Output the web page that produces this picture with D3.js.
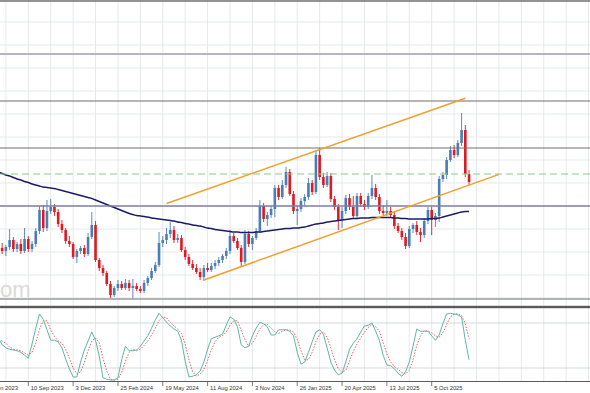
<!DOCTYPE html>
<html>
<head>
<meta charset="utf-8">
<script src="https://d3js.org/d3.v7.min.js"></script>
<style>
  body { margin: 0; background: #fff; }
  svg { display: block; }
</style>
</head>
<body>
<div id="chart"></div>
<script>
// Weekly candles, first bar opens the week of 16 Jul 2023
var startDate = '2023-07-16';

var opens = [
  1.257, 1.252, 1.249, 1.253, 1.260, 1.251, 1.256, 1.249,
  1.261, 1.251, 1.256, 1.269, 1.290, 1.272, 1.289, 1.293, 1.288, 1.276,
  1.270, 1.259, 1.256, 1.243, 1.249, 1.252, 1.246, 1.263, 1.275, 1.240,
  1.232, 1.227, 1.216, 1.205, 1.212, 1.216, 1.212, 1.217, 1.212, 1.214,
  1.211, 1.209, 1.217, 1.222, 1.229, 1.235, 1.257, 1.260, 1.266, 1.270,
  1.260, 1.262, 1.250, 1.243, 1.236, 1.232, 1.228, 1.223, 1.232, 1.230,
  1.234, 1.237, 1.240, 1.244, 1.249, 1.264, 1.259, 1.252, 1.238, 1.266,
  1.256, 1.262, 1.269, 1.294, 1.281, 1.285, 1.291, 1.312, 1.303, 1.315,
  1.328, 1.306, 1.289, 1.291, 1.299, 1.303, 1.317, 1.308, 1.345, 1.323,
  1.315, 1.324, 1.301, 1.293, 1.280, 1.289, 1.302, 1.293, 1.284, 1.304,
  1.296, 1.293, 1.304, 1.312, 1.303, 1.289, 1.287, 1.289, 1.285, 1.274,
  1.269, 1.263, 1.254, 1.271, 1.275, 1.268, 1.265, 1.279, 1.290, 1.280,
  1.284, 1.321, 1.325, 1.340, 1.350, 1.345, 1.357, 1.370, 1.326
];
var highs = [
  1.260, 1.257, 1.255, 1.271, 1.263, 1.258, 1.261, 1.272,
  1.264, 1.259, 1.272, 1.294, 1.295, 1.300, 1.301, 1.296, 1.291, 1.280,
  1.272, 1.264, 1.258, 1.251, 1.254, 1.255, 1.267, 1.288, 1.279, 1.242,
  1.235, 1.229, 1.219, 1.214, 1.220, 1.219, 1.221, 1.220, 1.221, 1.217,
  1.214, 1.220, 1.224, 1.232, 1.238, 1.268, 1.264, 1.272, 1.278, 1.274,
  1.266, 1.265, 1.253, 1.246, 1.240, 1.236, 1.232, 1.235, 1.237, 1.237,
  1.240, 1.243, 1.246, 1.252, 1.270, 1.267, 1.262, 1.255, 1.270, 1.269,
  1.264, 1.272, 1.300, 1.297, 1.288, 1.294, 1.315, 1.315, 1.320, 1.333,
  1.331, 1.309, 1.295, 1.302, 1.306, 1.322, 1.320, 1.350, 1.352, 1.327,
  1.328, 1.327, 1.304, 1.296, 1.293, 1.305, 1.306, 1.304, 1.307, 1.307,
  1.300, 1.307, 1.325, 1.316, 1.306, 1.295, 1.300, 1.293, 1.288, 1.277,
  1.272, 1.267, 1.274, 1.277, 1.279, 1.272, 1.282, 1.293, 1.293, 1.287,
  1.324, 1.328, 1.343, 1.354, 1.355, 1.360, 1.387, 1.375, 1.330
];
var lows = [
  1.249, 1.246, 1.244, 1.250, 1.248, 1.248, 1.246, 1.247,
  1.248, 1.248, 1.253, 1.266, 1.268, 1.269, 1.286, 1.284, 1.273, 1.267,
  1.256, 1.253, 1.241, 1.237, 1.246, 1.243, 1.244, 1.261, 1.238, 1.229,
  1.224, 1.214, 1.202, 1.203, 1.209, 1.210, 1.210, 1.209, 1.202, 1.209,
  1.207, 1.207, 1.214, 1.220, 1.227, 1.233, 1.253, 1.256, 1.262, 1.257,
  1.257, 1.248, 1.240, 1.234, 1.230, 1.226, 1.220, 1.219, 1.228, 1.228,
  1.231, 1.234, 1.237, 1.241, 1.246, 1.257, 1.250, 1.234, 1.236, 1.253,
  1.250, 1.260, 1.267, 1.278, 1.274, 1.282, 1.283, 1.300, 1.301, 1.312,
  1.304, 1.286, 1.275, 1.288, 1.294, 1.300, 1.305, 1.306, 1.320, 1.312,
  1.313, 1.298, 1.290, 1.270, 1.272, 1.286, 1.290, 1.281, 1.282, 1.293,
  1.290, 1.291, 1.301, 1.300, 1.286, 1.285, 1.284, 1.283, 1.271, 1.267,
  1.260, 1.251, 1.252, 1.267, 1.265, 1.258, 1.262, 1.276, 1.265, 1.273,
  1.278, 1.318, 1.321, 1.338, 1.342, 1.343, 1.354, 1.323, 1.315
];
var closes = [
  1.252, 1.249, 1.253, 1.260, 1.251, 1.256, 1.249, 1.261,
  1.251, 1.256, 1.269, 1.290, 1.272, 1.289, 1.293, 1.288, 1.276, 1.270,
  1.259, 1.256, 1.243, 1.249, 1.252, 1.246, 1.263, 1.275, 1.240, 1.232,
  1.227, 1.216, 1.205, 1.212, 1.216, 1.212, 1.217, 1.212, 1.214, 1.211,
  1.209, 1.217, 1.222, 1.229, 1.235, 1.257, 1.260, 1.266, 1.270, 1.260,
  1.262, 1.250, 1.243, 1.236, 1.232, 1.228, 1.223, 1.232, 1.230, 1.234,
  1.237, 1.240, 1.244, 1.249, 1.264, 1.259, 1.252, 1.238, 1.266, 1.256,
  1.262, 1.269, 1.294, 1.281, 1.285, 1.291, 1.312, 1.303, 1.315, 1.328,
  1.306, 1.289, 1.291, 1.299, 1.303, 1.317, 1.308, 1.345, 1.323, 1.315,
  1.324, 1.301, 1.293, 1.280, 1.289, 1.302, 1.293, 1.284, 1.304, 1.296,
  1.293, 1.304, 1.312, 1.303, 1.289, 1.287, 1.289, 1.285, 1.274, 1.269,
  1.263, 1.254, 1.271, 1.275, 1.268, 1.265, 1.279, 1.290, 1.280, 1.284,
  1.321, 1.325, 1.340, 1.350, 1.345, 1.357, 1.370, 1.326, 1.318
];

// Long moving average (navy line)
var maValues = [
  1.3275, 1.3265, 1.3250, 1.3240, 1.3225, 1.3210, 1.3200, 1.3185,
  1.3175, 1.3160, 1.3150, 1.3140, 1.3130, 1.3125, 1.3120, 1.3115, 1.3105, 1.3095,
  1.3085, 1.3075, 1.3065, 1.3055, 1.3045, 1.3035, 1.3025, 1.3015, 1.3000, 1.2985,
  1.2970, 1.2955, 1.2940, 1.2925, 1.2910, 1.2895, 1.2880, 1.2865, 1.2855, 1.2845,
  1.2840, 1.2835, 1.2830, 1.2820, 1.2815, 1.2810, 1.2805, 1.2800, 1.2795, 1.2790,
  1.2780, 1.2775, 1.2765, 1.2760, 1.2750, 1.2745, 1.2740, 1.2730, 1.2720, 1.2715,
  1.2705, 1.2700, 1.2695, 1.2690, 1.2685, 1.2680, 1.2680, 1.2675, 1.2675, 1.2675,
  1.2675, 1.2680, 1.2680, 1.2685, 1.2690, 1.2695, 1.2700, 1.2705, 1.2710, 1.2715,
  1.2715, 1.2720, 1.2720, 1.2725, 1.2730, 1.2740, 1.2750, 1.2760, 1.2765, 1.2770,
  1.2780, 1.2785, 1.2790, 1.2795, 1.2800, 1.2805, 1.2810, 1.2815, 1.2815, 1.2820,
  1.2820, 1.2820, 1.2825, 1.2825, 1.2825, 1.2825, 1.2825, 1.2825, 1.2820, 1.2820,
  1.2815, 1.2815, 1.2810, 1.2810, 1.2810, 1.2810, 1.2810, 1.2810, 1.2815, 1.2815,
  1.2820, 1.2830, 1.2840, 1.2850, 1.2860, 1.2870, 1.2880, 1.2885, 1.2885
];

// Stochastic oscillator (lower window)
var stochK = [
  60, 51, 47, 45, 44, 43, 41, 37,
  33, 52, 73, 92, 85, 71, 57, 57, 55, 47,
  32, 19, 8, 8, 28, 44, 56, 68, 57, 36,
  7, 5, 4, 4, 7, 31, 49, 43, 43, 44,
  49, 56, 63, 73, 84, 93, 87, 81, 76, 72,
  69, 57, 29, 8, 9, 11, 16, 28, 45, 59,
  61, 63, 65, 77, 88, 85, 75, 51, 47, 49,
  63, 73, 81, 79, 75, 64, 64, 71, 71, 71,
  69, 63, 41, 25, 28, 41, 55, 68, 71, 65,
  47, 28, 17, 11, 13, 28, 45, 53, 59, 68,
  76, 77, 80, 69, 57, 37, 24, 23, 19, 13,
  9, 15, 28, 49, 72, 69, 69, 69, 63, 57,
  64, 79, 92, 93, 92, 91, 88, 57, 31
];
var stochD = [
  58, 56, 53, 48, 45, 44, 43, 40,
  37, 41, 53, 72, 83, 83, 71, 62, 56, 53,
  45, 33, 20, 12, 15, 27, 43, 56, 60, 54,
  33, 16, 5, 4, 5, 14, 29, 41, 45, 43,
  45, 50, 56, 64, 73, 83, 88, 87, 81, 76,
  72, 66, 52, 31, 15, 9, 12, 18, 30, 44,
  55, 61, 63, 68, 77, 83, 83, 70, 58, 49,
  53, 62, 72, 78, 78, 73, 68, 66, 69, 71,
  70, 68, 58, 43, 31, 31, 41, 55, 65, 68,
  61, 47, 31, 19, 14, 17, 29, 42, 52, 60,
  68, 74, 78, 75, 69, 54, 39, 28, 22, 18,
  14, 12, 17, 31, 50, 63, 70, 69, 67, 63,
  61, 67, 78, 88, 92, 92, 90, 79, 59
];
var stochLevels = [80, 20];

var tickLabels = ['18 Jun 2023', '10 Sep 2023', '3 Dec 2023', '25 Feb 2024', '19 May 2024',
  '11 Aug 2024', '3 Nov 2024', '26 Jan 2025', '20 Apr 2025', '13 Jul 2025', '5 Oct 2025'];

// Horizontal levels and trend channel
var levelPrices = [1.499, 1.446, 1.399, 1.352, 1.294, 1.201];
var targetPrice = 1.326;
var upperChannel = [['2024-05-26', 1.2965], ['2025-12-07', 1.4017]];
var lowerChannel = [['2024-08-04', 1.2200], ['2026-02-08', 1.3256]];

// Colours
var COLORS = {
  BULL: '#4a7db5',
  BEAR: '#dc1a22',
  GRID: '#e6e9ec',
  LEVEL: '#6f6f6f',
  LEVEL_LIGHT: '#b4b4c2',
  LEVEL_BLUE: '#7e80a4',
  TARGET: '#8cc98c',
  CHANNEL: '#f0a02c',
  MA: '#1c1c66',
  STOCH_K: '#63b4aa',
  STOCH_D: '#d9534f',
  AXIS: '#5a5a5a',
  TEXT: '#333333'
};

var W = 590, H = 393;
var MAIN_BOTTOM = 305, SUB_TOP = 309, SUB_BOTTOM = 381;

var parseDay = d3.utcParse('%Y-%m-%d');
var parseLabel = d3.utcParse('%d %b %Y');
var start = parseDay(startDate);
var dates = closes.map(function(d, i) { return d3.utcWeek.offset(start, i); });

var x = d3.scaleUtc()
  .domain([parseDay('2023-09-10'), parseDay('2025-10-05')])
  .range([28.3, 431.7]);
var y = d3.scaleLinear().domain([1.195, 1.500]).range([MAIN_BOTTOM, 0]);
var yStoch = d3.scaleLinear().domain([0, 100]).range([383, 308]);

var svg = d3.select('#chart').append('svg')
  .attr('width', W)
  .attr('height', H);

svg.append('rect').attr('width', W).attr('height', H).attr('fill', '#fff');

var defs = svg.append('defs');
defs.append('clipPath').attr('id', 'clip-main')
  .append('rect').attr('x', 0).attr('y', 0).attr('width', W).attr('height', MAIN_BOTTOM);
defs.append('clipPath').attr('id', 'clip-sub')
  .append('rect').attr('x', 0).attr('y', SUB_TOP).attr('width', W).attr('height', SUB_BOTTOM - SUB_TOP);

// Vertical grid every 6 weeks, across both windows
var gridWeeks = d3.range(-6, 151, 6).map(function(w) {
  return d3.utcWeek.offset(parseDay('2023-09-10'), w);
});
svg.append('g').selectAll('line')
  .data(gridWeeks)
  .enter().append('line')
  .attr('x1', function(d) { return x(d); })
  .attr('x2', function(d) { return x(d); })
  .attr('y1', 0)
  .attr('y2', SUB_BOTTOM)
  .attr('stroke', COLORS.GRID)
  .attr('stroke-width', 1);

// Horizontal grid of the price window
var gridPrices = d3.range(1.478, 1.19, -0.023);
svg.append('g').selectAll('line')
  .data(gridPrices)
  .enter().append('line')
  .attr('x1', 0).attr('x2', W)
  .attr('y1', function(d) { return y(d); })
  .attr('y2', function(d) { return y(d); })
  .attr('stroke', COLORS.GRID)
  .attr('stroke-width', 1);

var main = svg.append('g').attr('clip-path', 'url(#clip-main)');

// Watermark, mostly cut off at the left edge
main.append('text')
  .attr('x', 30.5)
  .attr('y', 297)
  .attr('text-anchor', 'end')
  .attr('font-family', 'Liberation Sans, Arial, sans-serif')
  .attr('font-size', '22px')
  .attr('fill', '#dadada')
  .text('.com');

// Candles
var candles = main.append('g').selectAll('g')
  .data(closes.map(function(c, i) {
    return {date: dates[i], o: opens[i], h: highs[i], l: lows[i], c: c};
  }))
  .enter().append('g');

candles.append('line')
  .attr('x1', function(d) { return x(d.date); })
  .attr('x2', function(d) { return x(d.date); })
  .attr('y1', function(d) { return y(d.h); })
  .attr('y2', function(d) { return y(d.l); })
  .attr('stroke', function(d) { return d.c >= d.o ? COLORS.BULL : COLORS.BEAR; })
  .attr('stroke-width', 0.9);

candles.append('rect')
  .attr('x', function(d) { return x(d.date) - 1.3; })
  .attr('width', 2.6)
  .attr('y', function(d) { return y(Math.max(d.o, d.c)); })
  .attr('height', function(d) { return Math.max(1, Math.abs(y(d.o) - y(d.c))); })
  .attr('fill', function(d) { return d.c >= d.o ? COLORS.BULL : COLORS.BEAR; });

// Moving average
var maLine = d3.line()
  .x(function(d, i) { return x(dates[i]); })
  .y(function(d) { return y(d); })
  .curve(d3.curveMonotoneX);
main.append('path')
  .datum(maValues)
  .attr('d', maLine)
  .attr('fill', 'none')
  .attr('stroke', COLORS.MA)
  .attr('stroke-width', 1.5);

// Horizontal levels
var levelStyle = [
  {color: COLORS.LEVEL, width: 1.5},
  {color: COLORS.LEVEL_LIGHT, width: 2},
  {color: COLORS.LEVEL, width: 1.2},
  {color: COLORS.LEVEL, width: 1},
  {color: COLORS.LEVEL_BLUE, width: 1.5},
  {color: COLORS.LEVEL, width: 1.2}
];
main.append('g').selectAll('line')
  .data(levelPrices)
  .enter().append('line')
  .attr('x1', 0).attr('x2', W)
  .attr('y1', function(d) { return y(d); })
  .attr('y2', function(d) { return y(d); })
  .attr('stroke', function(d, i) { return levelStyle[i].color; })
  .attr('stroke-width', function(d, i) { return levelStyle[i].width; });

// Dashed target level
main.append('line')
  .attr('x1', 0).attr('x2', W)
  .attr('y1', y(targetPrice)).attr('y2', y(targetPrice))
  .attr('stroke', COLORS.TARGET)
  .attr('stroke-width', 1)
  .attr('stroke-dasharray', '7,4');

// Trend channel
var chanLine = d3.line()
  .x(function(d) { return x(parseDay(d[0])); })
  .y(function(d) { return y(d[1]); });
[upperChannel, lowerChannel].forEach(function(ch) {
  main.append('path')
    .datum(ch)
    .attr('d', chanLine)
    .attr('fill', 'none')
    .attr('stroke', COLORS.CHANNEL)
    .attr('stroke-width', 1.5);
});

// Window separator
svg.append('rect')
  .attr('x', 0).attr('y', MAIN_BOTTOM + 0.8)
  .attr('width', W).attr('height', 2.4)
  .attr('fill', COLORS.AXIS);

// Stochastic window
var sub = svg.append('g').attr('clip-path', 'url(#clip-sub)');

sub.append('g').selectAll('line')
  .data(stochLevels)
  .enter().append('line')
  .attr('x1', 0).attr('x2', W)
  .attr('y1', function(d) { return yStoch(d); })
  .attr('y2', function(d) { return yStoch(d); })
  .attr('stroke', '#d4d8dc')
  .attr('stroke-width', 1);

var stochLine = d3.line()
  .x(function(d, i) { return x(dates[i]); })
  .y(function(d) { return yStoch(d); });

sub.append('path')
  .datum(stochD)
  .attr('d', stochLine)
  .attr('fill', 'none')
  .attr('stroke', COLORS.STOCH_D)
  .attr('stroke-width', 0.9)
  .attr('stroke-dasharray', '1.5,1.5');

sub.append('path')
  .datum(stochK)
  .attr('d', stochLine)
  .attr('fill', 'none')
  .attr('stroke', COLORS.STOCH_K)
  .attr('stroke-width', 1);

// Time axis
svg.append('line')
  .attr('x1', 0).attr('x2', W)
  .attr('y1', SUB_BOTTOM + 0.5).attr('y2', SUB_BOTTOM + 0.5)
  .attr('stroke', COLORS.AXIS)
  .attr('stroke-width', 1);

var ticks = svg.append('g').selectAll('g')
  .data(tickLabels)
  .enter().append('g')
  .attr('transform', function(d) { return 'translate(' + x(parseLabel(d)) + ',0)'; });

ticks.append('line')
  .attr('y1', SUB_BOTTOM + 1).attr('y2', SUB_BOTTOM + 5)
  .attr('stroke', COLORS.AXIS)
  .attr('stroke-width', 0.8);

ticks.append('text')
  .attr('x', 2.5)
  .attr('y', 389.5)
  .attr('font-family', 'Liberation Sans, Arial, sans-serif')
  .attr('font-size', '5.8px')
  .attr('fill', COLORS.TEXT)
  .text(function(d) { return d; });
</script>
</body>
</html>
